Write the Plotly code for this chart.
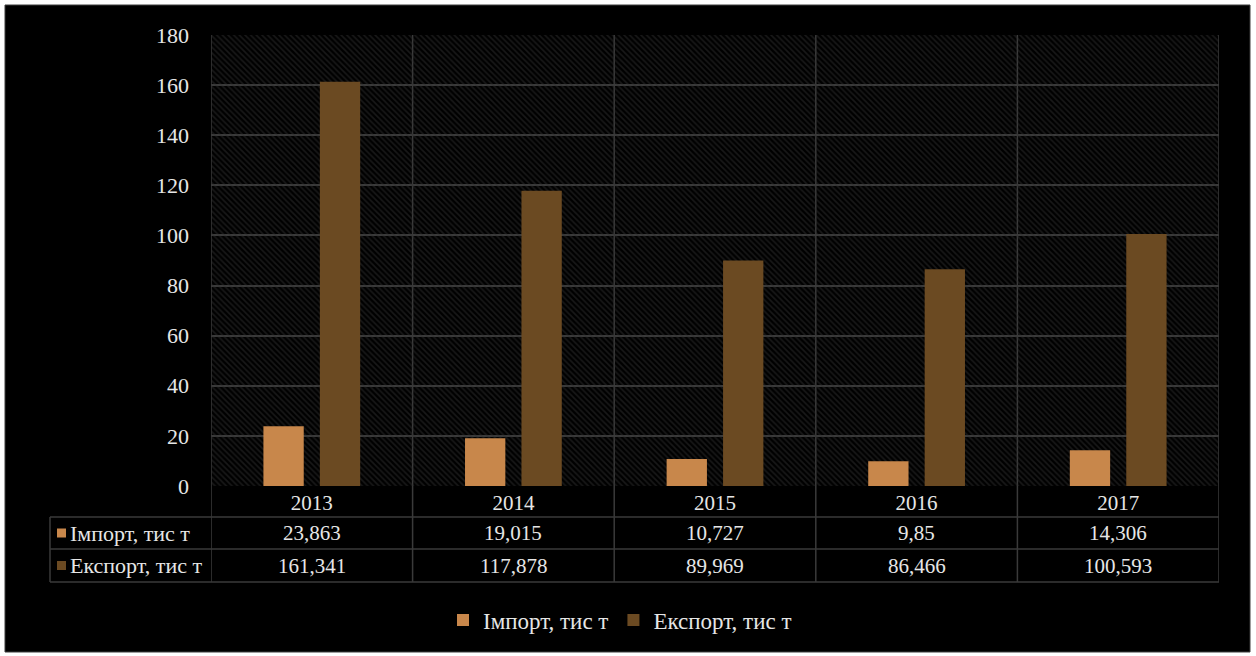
import plotly.graph_objects as go

years = ["2013", "2014", "2015", "2016", "2017"]
import_vals = [23.863, 19.015, 10.727, 9.85, 14.306]
export_vals = [161.341, 117.878, 89.969, 86.466, 100.593]
series_names = ["Імпорт, тис т", "Експорт, тис т"]
y_ticks = [0, 20, 40, 60, 80, 100, 120, 140, 160, 180]

W, H = 1256, 656
L, R, T, B = 211, 1219, 35, 486
PW, PH = R - L, B - T

def px(x):
    return (x - L) / PW

def py(y):
    return (B - y) / PH

c_imp = "#C8874B"
c_exp = "#6B4A22"
grid = "#3a3a3a"
txt = "#E6E6E6"
font_fam = "Liberation Serif, DejaVu Serif, serif"

fig = go.Figure()

# hatched plot background
n = len(years)
fig.add_trace(go.Bar(
    x=[years[n // 2]], y=[y_ticks[-1]], width=[n], offset=-n / 2,
    marker=dict(color="rgba(0,0,0,0)", line=dict(width=0),
                pattern=dict(shape="\\", fgcolor="#303030", bgcolor="rgba(0,0,0,0)",
                             size=4, solidity=0.4, fillmode="overlay")),
    showlegend=False, hoverinfo="skip"))

fig.add_trace(go.Bar(x=years, y=import_vals, name=series_names[0], width=0.2, offset=-0.24,
                     marker=dict(color=c_imp, line=dict(width=0))))
fig.add_trace(go.Bar(x=years, y=export_vals, name=series_names[1], width=0.2, offset=0.04,
                     marker=dict(color=c_exp, line=dict(width=0))))

shapes = []
# outer dark panel
shapes.append(dict(type="rect", xref="paper", yref="paper", x0=px(5), x1=px(1250), y0=py(652), y1=py(5),
                   fillcolor="#000000", line=dict(color="#3c3c3c", width=1), layer="below"))

row_y = [486, 517, 549, 582]
for yy in row_y[1:]:
    shapes.append(dict(type="line", xref="paper", yref="paper", x0=px(50), x1=1, y0=py(yy), y1=py(yy),
                       line=dict(color=grid, width=1.5)))
shapes.append(dict(type="line", xref="paper", yref="paper", x0=px(50), x1=px(50), y0=py(517), y1=py(582),
                   line=dict(color=grid, width=1.5)))
for k in range(n + 1):
    xb = k - 0.5
    shapes.append(dict(type="line", xref="x", yref="paper", x0=xb, x1=xb, y0=py(582), y1=1,
                       line=dict(color=grid, width=1.5), layer="below"))

annotations = []
for r, (name, vals, col) in enumerate([(series_names[0], import_vals, c_imp),
                                       (series_names[1], export_vals, c_exp)]):
    yc = (row_y[r + 1] + row_y[r + 2]) / 2
    shapes.append(dict(type="rect", xref="paper", yref="paper", x0=px(57), x1=px(66),
                       y0=py(yc + 4.5), y1=py(yc - 4.5), fillcolor=col, line=dict(width=0)))
    annotations.append(dict(xref="paper", yref="paper", x=px(68), y=py(yc), text=name, showarrow=False,
                            xanchor="left", yanchor="middle", font=dict(size=22, color=txt, family=font_fam)))
    for k, v in enumerate(vals):
        annotations.append(dict(xref="x", yref="paper", x=k, y=py(yc),
                                text=f"{v:g}".replace(".", ","), showarrow=False,
                                xanchor="center", yanchor="middle",
                                font=dict(size=21, color=txt, family=font_fam)))

fig.update_layout(
    width=W, height=H,
    margin=dict(l=L, r=W - R, t=T, b=H - B, autoexpand=False),
    paper_bgcolor="#ffffff", plot_bgcolor="#000000",
    barmode="overlay",
    font=dict(family=font_fam, color=txt, size=21),
    xaxis=dict(type="category", categoryorder="array", categoryarray=years, range=[-0.5, n - 0.5],
               showgrid=False, zeroline=False, showline=False, ticks="",
               tickfont=dict(size=21, color=txt, family=font_fam), ticklabelstandoff=2),
    yaxis=dict(range=[0, y_ticks[-1]], tickvals=y_ticks, showgrid=True, gridcolor=grid, gridwidth=1.5,
               zeroline=False, showline=False, ticks="", ticklabelstandoff=21,
               tickfont=dict(size=22, color=txt, family=font_fam)),
    legend=dict(orientation="h", x=px(620), xanchor="center", y=py(620), yanchor="middle",
                font=dict(size=23, color=txt, family=font_fam), bgcolor="rgba(0,0,0,0)", itemwidth=30),
    shapes=shapes, annotations=annotations,
)

fig.write_html("out.html")
